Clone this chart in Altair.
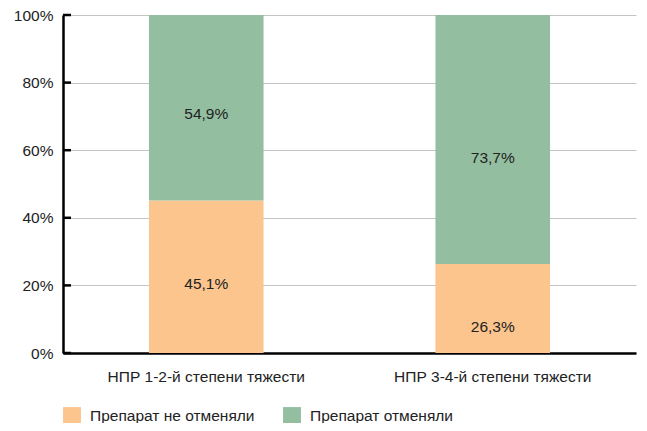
import altair as alt
import pandas as pd

categories = ["НПР 1-2-й степени тяжести", "НПР 3-4-й степени тяжести"]
series = ["Препарат не отменяли", "Препарат отменяли"]
not_cancelled = [45.1, 26.3]
cancelled = [54.9, 73.7]
label_texts_not = ["45,1%", "26,3%"]
label_texts_can = ["54,9%", "73,7%"]
label_pos_not = [20.4, 7.7]
label_pos_can = [70.7, 57.7]
y_ticks = [0, 20, 40, 60, 80, 100]
colors = ["#FBC58D", "#93BFA0"]

rows = []
for i, c in enumerate(categories):
    rows.append({"cat": c, "series": series[0], "value": not_cancelled[i], "order": 0,
                 "label": label_texts_not[i], "lpos": label_pos_not[i]})
    rows.append({"cat": c, "series": series[1], "value": cancelled[i], "order": 1,
                 "label": label_texts_can[i], "lpos": label_pos_can[i]})
df = pd.DataFrame(rows)
ticks_df = pd.DataFrame({"t": y_ticks})

FONT = "Liberation Sans"
FS = 15.5

x_enc = alt.X("cat:N", sort=categories,
              scale=alt.Scale(paddingInner=0.6, paddingOuter=0.3),
              axis=alt.Axis(title=None, labelAngle=0, labelFontSize=FS, labelFont=FONT,
                            labelColor="#222", labelPadding=16, ticks=False, labelLimit=0,
                            domainColor="black", domainWidth=2.5, grid=False))
y_scale = alt.Scale(domain=[0, 100])

bars = alt.Chart(df).mark_bar().encode(
    x=x_enc,
    y=alt.Y("value:Q", stack="zero", scale=y_scale,
            axis=alt.Axis(title=None, values=y_ticks, labelExpr="datum.value + '%'",
                          labelFontSize=FS, labelFont=FONT, labelColor="#222",
                          ticks=False, labelPadding=10, domainColor="black",
                          domainWidth=2.5, gridColor="#c4c4c4", gridWidth=1.2)),
    color=alt.Color("series:N", sort=series,
                    scale=alt.Scale(domain=series, range=colors),
                    legend=alt.Legend(title=None, orient="none", legendX=0, legendY=392,
                                      direction="horizontal", symbolType="square",
                                      symbolSize=320, symbolStrokeWidth=0, labelLimit=0,
                                      labelFontSize=FS, labelFont=FONT, labelColor="#222",
                                      columnPadding=28, labelOffset=9)),
    order=alt.Order("order:Q"),
)

labels = alt.Chart(df).mark_text(fontSize=FS, font=FONT, color="#222").encode(
    x=alt.X("cat:N", sort=categories),
    y=alt.Y("lpos:Q", scale=y_scale),
    text="label:N",
)

tick_marks = alt.Chart(ticks_df).mark_rule(color="black", strokeWidth=2.5).encode(
    y=alt.Y("t:Q", scale=y_scale),
    x=alt.value(0),
    x2=alt.value(8),
)

chart = alt.layer(bars, labels, tick_marks).properties(
    width=573, height=338,
    autosize=alt.AutoSizeParams(type="none"),
    padding={"left": 55, "top": 7, "right": 3, "bottom": 70},
).configure_view(stroke=None)

chart.save("out.html", embed_options={"renderer": "svg", "actions": False})
